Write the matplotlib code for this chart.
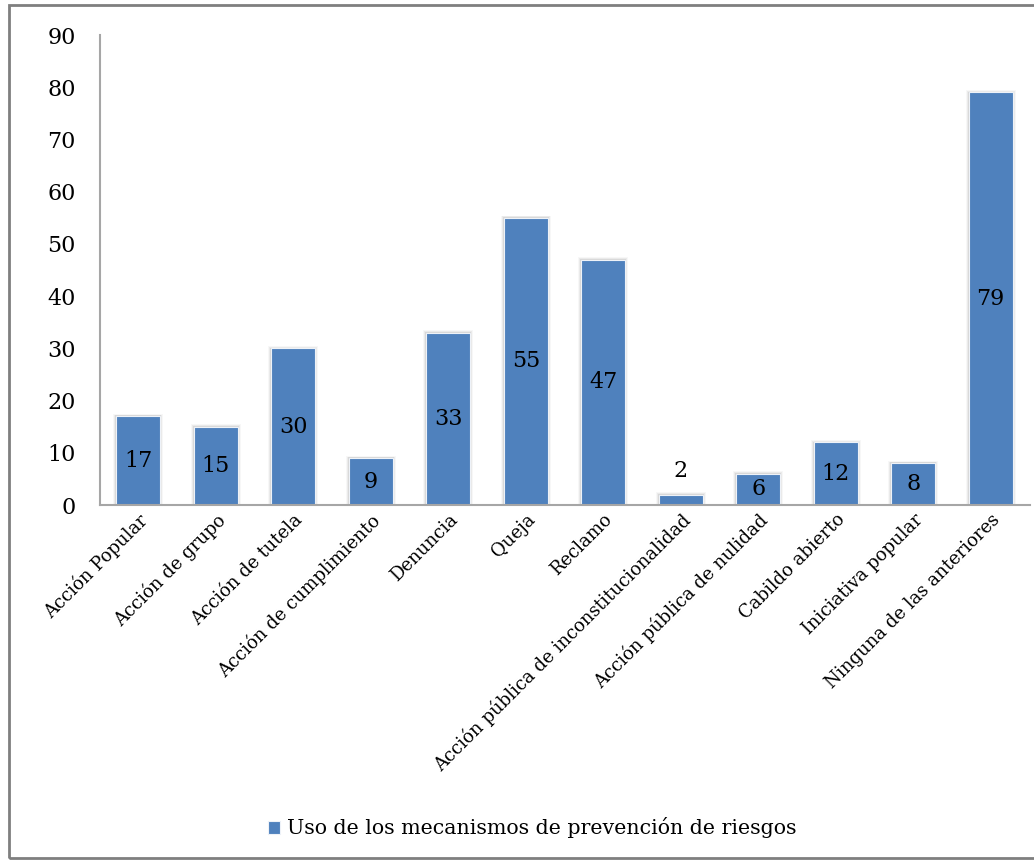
import numpy as np
import matplotlib.pyplot as plt
import matplotlib as mpl
from matplotlib.patches import Rectangle

mpl.rcParams['font.family'] = ['DejaVu Serif']

categorias = ['Acción Popular', 'Acción de grupo', 'Acción de tutela',
              'Acción de cumplimiento', 'Denuncia', 'Queja', 'Reclamo',
              'Acción pública de inconstitucionalidad',
              'Acción pública de nulidad', 'Cabildo abierto',
              'Iniciativa popular', 'Ninguna de las anteriores']
valores = [17, 15, 30, 9, 33, 55, 47, 2, 6, 12, 8, 79]
serie = 'Uso de los mecanismos de prevención de riesgos'

azul = '#4f81bd'
ind = np.arange(len(categorias))
width = 0.57

fig = plt.figure(figsize=(10.34, 8.6), dpi=100)
ax = fig.add_axes([99.5/1034, 1 - 505/860, 930/1034, 470/860])

# soft glow around the bars
for extra, a in [(0.07, 0.06), (0.045, 0.10), (0.025, 0.16)]:
    ax.bar(ind, np.array(valores) + extra * 6, width + extra, color='#808080',
           alpha=a, zorder=1, linewidth=0)
bars = ax.bar(ind, valores, width, color=azul, edgecolor='#eef2f8',
              linewidth=0.8, zorder=2, label=serie)

for i, v in enumerate(valores):
    if v < 4:
        ax.text(i, v + 4.5, str(v), ha='center', va='center', fontsize=16)
    else:
        ax.text(i, v / 2, str(v), ha='center', va='center', fontsize=16,
                zorder=3)

ax.set_ylim(0, 90)
ax.set_xlim(-0.5, len(categorias) - 0.5)
ax.set_yticks(np.arange(0, 91, 10))
ax.tick_params(axis='y', length=0, labelsize=16, pad=17)
ax.tick_params(axis='x', length=0, labelsize=13, pad=4)
ax.set_xticks(ind)
ax.set_xticklabels(categorias, rotation=45, ha='right', rotation_mode='anchor')
for s in ['top', 'right']:
    ax.spines[s].set_visible(False)
for s in ['left', 'bottom']:
    ax.spines[s].set_color('#a6a6a6')
    ax.spines[s].set_linewidth(1.5)
    ax.spines[s].set_zorder(4)

leg = fig.legend(handles=[bars], labels=[serie], loc='center',
                 bbox_to_anchor=(532/1034, 1 - 828/860), frameon=False,
                 fontsize=14.8, handlelength=0.6, handleheight=0.6,
                 handletextpad=0.3)

fig.patches.append(Rectangle((9/1034, 2/860), 1.1, 1 - 7/860,
                             transform=fig.transFigure, fill=False,
                             edgecolor='#7f7f7f', linewidth=2))

plt.savefig('out.png', dpi=100)
